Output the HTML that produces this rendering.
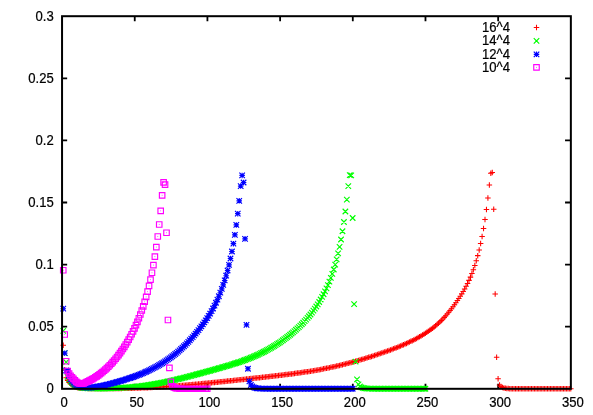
<!DOCTYPE html>
<html lang="en"><head><meta charset="utf-8"><title>plot</title>
<style>html,body{margin:0;padding:0;background:#fff}svg{display:block;will-change:transform}</style>
</head><body>
<svg width="593" height="415" viewBox="0 0 593 415">
<rect width="593" height="415" fill="#fff"/>
<path d="M134.74 388.8v-5M134.74 16.2v5M207.42 388.8v-5M207.42 16.2v5M280.11 388.8v-5M280.11 16.2v5M352.79 388.8v-5M352.79 16.2v5M425.48 388.8v-5M425.48 16.2v5M498.16 388.8v-5M498.16 16.2v5M62.05 326.7h5.1M570.85 326.7h-5.8M62.05 264.6h5.1M570.85 264.6h-5.8M62.05 202.5h5.1M570.85 202.5h-5.8M62.05 140.4h5.1M570.85 140.4h-5.8M62.05 78.3h5.1M570.85 78.3h-5.8" fill="none" stroke="#000" stroke-width="1.8"/>
<path d="M60.5 345.19h5.5M63.25 342.44v5.5M61.95 369.76h5.5M64.7 367.01v5.5M63.41 377.83h5.5M66.16 375.08v5.5M64.86 380.56h5.5M67.61 377.81v5.5M66.32 382.37h5.5M69.07 379.62v5.5M67.77 383.84h5.5M70.52 381.09v5.5M69.23 385h5.5M71.98 382.25v5.5M70.68 385.92h5.5M73.43 383.17v5.5M72.13 386.64h5.5M74.88 383.89v5.5M73.59 387.21h5.5M76.34 384.46v5.5M75.04 387.63h5.5M77.79 384.88v5.5M76.5 387.95h5.5M79.25 385.2v5.5M77.95 388.13h5.5M80.7 385.38v5.5M79.41 388.2h5.5M82.16 385.45v5.5M80.86 388.27h5.5M83.61 385.52v5.5M82.31 388.32h5.5M85.06 385.57v5.5M83.77 388.36h5.5M86.52 385.61v5.5M85.22 388.39h5.5M87.97 385.64v5.5M86.68 388.42h5.5M89.43 385.67v5.5M88.13 388.45h5.5M90.88 385.7v5.5M89.59 388.46h5.5M92.34 385.71v5.5M91.04 388.48h5.5M93.79 385.73v5.5M92.49 388.49h5.5M95.24 385.74v5.5M93.95 388.5h5.5M96.7 385.75v5.5M95.4 388.5h5.5M98.15 385.75v5.5M96.86 388.5h5.5M99.61 385.75v5.5M98.31 388.62h5.5M101.06 385.87v5.5M99.77 388.61h5.5M102.52 385.86v5.5M101.22 388.6h5.5M103.97 385.85v5.5M102.67 388.58h5.5M105.42 385.83v5.5M104.13 388.57h5.5M106.88 385.82v5.5M105.58 388.56h5.5M108.33 385.81v5.5M107.04 388.54h5.5M109.79 385.79v5.5M108.49 388.53h5.5M111.24 385.78v5.5M109.95 388.51h5.5M112.7 385.76v5.5M111.4 388.5h5.5M114.15 385.75v5.5M112.85 388.48h5.5M115.6 385.73v5.5M114.31 388.46h5.5M117.06 385.71v5.5M115.76 388.44h5.5M118.51 385.69v5.5M117.22 388.41h5.5M119.97 385.66v5.5M118.67 388.39h5.5M121.42 385.64v5.5M120.13 388.36h5.5M122.88 385.61v5.5M121.58 388.34h5.5M124.33 385.59v5.5M123.03 388.31h5.5M125.78 385.56v5.5M124.49 388.28h5.5M127.24 385.53v5.5M125.94 388.25h5.5M128.69 385.5v5.5M127.4 388.21h5.5M130.15 385.46v5.5M128.85 388.18h5.5M131.6 385.43v5.5M130.31 388.14h5.5M133.06 385.39v5.5M131.76 388.1h5.5M134.51 385.35v5.5M133.22 388.06h5.5M135.97 385.31v5.5M134.67 388.01h5.5M137.42 385.26v5.5M136.12 387.97h5.5M138.87 385.22v5.5M137.58 387.92h5.5M140.33 385.17v5.5M139.03 387.87h5.5M141.78 385.12v5.5M140.49 387.81h5.5M143.24 385.06v5.5M141.94 387.76h5.5M144.69 385.01v5.5M143.4 387.7h5.5M146.15 384.95v5.5M144.85 387.64h5.5M147.6 384.89v5.5M146.3 387.57h5.5M149.05 384.82v5.5M147.76 387.5h5.5M150.51 384.75v5.5M149.21 387.44h5.5M151.96 384.69v5.5M150.67 387.36h5.5M153.42 384.61v5.5M152.12 387.29h5.5M154.87 384.54v5.5M153.58 387.21h5.5M156.33 384.46v5.5M155.03 387.13h5.5M157.78 384.38v5.5M156.48 387.05h5.5M159.23 384.3v5.5M157.94 386.96h5.5M160.69 384.21v5.5M159.39 386.88h5.5M162.14 384.13v5.5M160.85 386.79h5.5M163.6 384.04v5.5M162.3 386.7h5.5M165.05 383.95v5.5M163.76 386.6h5.5M166.51 383.85v5.5M165.21 386.5h5.5M167.96 383.75v5.5M166.66 386.41h5.5M169.41 383.66v5.5M168.12 386.31h5.5M170.87 383.56v5.5M169.57 386.2h5.5M172.32 383.45v5.5M171.03 386.1h5.5M173.78 383.35v5.5M172.48 385.99h5.5M175.23 383.24v5.5M173.94 385.88h5.5M176.69 383.13v5.5M175.39 385.77h5.5M178.14 383.02v5.5M176.84 385.66h5.5M179.59 382.91v5.5M178.3 385.55h5.5M181.05 382.8v5.5M179.75 385.43h5.5M182.5 382.68v5.5M181.21 385.31h5.5M183.96 382.56v5.5M182.66 385.19h5.5M185.41 382.44v5.5M184.12 385.07h5.5M186.87 382.32v5.5M185.57 384.95h5.5M188.32 382.2v5.5M187.02 384.82h5.5M189.77 382.07v5.5M188.48 384.7h5.5M191.23 381.95v5.5M189.93 384.57h5.5M192.68 381.82v5.5M191.39 384.44h5.5M194.14 381.69v5.5M192.84 384.3h5.5M195.59 381.55v5.5M194.3 384.17h5.5M197.05 381.42v5.5M195.75 384.04h5.5M198.5 381.29v5.5M197.2 383.9h5.5M199.95 381.15v5.5M198.66 383.76h5.5M201.41 381.01v5.5M200.11 383.62h5.5M202.86 380.87v5.5M201.57 383.48h5.5M204.32 380.73v5.5M203.02 383.34h5.5M205.77 380.59v5.5M204.48 383.19h5.5M207.23 380.44v5.5M205.93 383.05h5.5M208.68 380.3v5.5M207.38 382.91h5.5M210.13 380.16v5.5M208.84 382.76h5.5M211.59 380.01v5.5M210.29 382.61h5.5M213.04 379.86v5.5M211.75 382.46h5.5M214.5 379.71v5.5M213.2 382.31h5.5M215.95 379.56v5.5M214.66 382.16h5.5M217.41 379.41v5.5M216.11 382.01h5.5M218.86 379.26v5.5M217.56 381.86h5.5M220.31 379.11v5.5M219.02 381.71h5.5M221.77 378.96v5.5M220.47 381.56h5.5M223.22 378.81v5.5M221.93 381.4h5.5M224.68 378.65v5.5M223.38 381.25h5.5M226.13 378.5v5.5M224.84 381.1h5.5M227.59 378.35v5.5M226.29 380.94h5.5M229.04 378.19v5.5M227.74 380.79h5.5M230.49 378.04v5.5M229.2 380.63h5.5M231.95 377.88v5.5M230.65 380.48h5.5M233.4 377.73v5.5M232.11 380.32h5.5M234.86 377.57v5.5M233.56 380.16h5.5M236.31 377.41v5.5M235.02 380.01h5.5M237.77 377.26v5.5M236.47 379.85h5.5M239.22 377.1v5.5M237.92 379.69h5.5M240.67 376.94v5.5M239.38 379.54h5.5M242.13 376.79v5.5M240.83 379.38h5.5M243.58 376.63v5.5M242.29 379.22h5.5M245.04 376.47v5.5M243.74 379.06h5.5M246.49 376.31v5.5M245.2 378.91h5.5M247.95 376.16v5.5M246.65 378.75h5.5M249.4 376v5.5M248.1 378.59h5.5M250.85 375.84v5.5M249.56 378.43h5.5M252.31 375.68v5.5M251.01 378.27h5.5M253.76 375.52v5.5M252.47 378.11h5.5M255.22 375.36v5.5M253.92 377.95h5.5M256.67 375.2v5.5M255.38 377.79h5.5M258.13 375.04v5.5M256.83 377.63h5.5M259.58 374.88v5.5M258.28 377.47h5.5M261.03 374.72v5.5M259.74 377.31h5.5M262.49 374.56v5.5M261.19 377.15h5.5M263.94 374.4v5.5M262.65 376.99h5.5M265.4 374.24v5.5M264.1 376.83h5.5M266.85 374.08v5.5M265.56 376.66h5.5M268.31 373.91v5.5M267.01 376.5h5.5M269.76 373.75v5.5M268.46 376.33h5.5M271.21 373.58v5.5M269.92 376.17h5.5M272.67 373.42v5.5M271.37 376h5.5M274.12 373.25v5.5M272.83 375.84h5.5M275.58 373.09v5.5M274.28 375.67h5.5M277.03 372.92v5.5M275.74 375.5h5.5M278.49 372.75v5.5M277.19 375.33h5.5M279.94 372.58v5.5M278.64 375.15h5.5M281.39 372.4v5.5M280.1 374.98h5.5M282.85 372.23v5.5M281.55 374.8h5.5M284.3 372.05v5.5M283.01 374.62h5.5M285.76 371.87v5.5M284.46 374.45h5.5M287.21 371.7v5.5M285.92 374.26h5.5M288.67 371.51v5.5M287.37 374.08h5.5M290.12 371.33v5.5M288.83 373.89h5.5M291.58 371.14v5.5M290.28 373.7h5.5M293.03 370.95v5.5M291.73 373.51h5.5M294.48 370.76v5.5M293.19 373.32h5.5M295.94 370.57v5.5M294.64 373.12h5.5M297.39 370.37v5.5M296.1 372.92h5.5M298.85 370.17v5.5M297.55 372.72h5.5M300.3 369.97v5.5M299.01 372.51h5.5M301.76 369.76v5.5M300.46 372.3h5.5M303.21 369.55v5.5M301.91 372.09h5.5M304.66 369.34v5.5M303.37 371.87h5.5M306.12 369.12v5.5M304.82 371.64h5.5M307.57 368.89v5.5M306.28 371.41h5.5M309.03 368.66v5.5M307.73 371.18h5.5M310.48 368.43v5.5M309.19 370.94h5.5M311.94 368.19v5.5M310.64 370.7h5.5M313.39 367.95v5.5M312.09 370.45h5.5M314.84 367.7v5.5M313.55 370.2h5.5M316.3 367.45v5.5M315 369.94h5.5M317.75 367.19v5.5M316.46 369.67h5.5M319.21 366.92v5.5M317.91 369.4h5.5M320.66 366.65v5.5M319.37 369.13h5.5M322.12 366.38v5.5M320.82 368.85h5.5M323.57 366.1v5.5M322.27 368.56h5.5M325.02 365.81v5.5M323.73 368.27h5.5M326.48 365.52v5.5M325.18 367.97h5.5M327.93 365.22v5.5M326.64 367.67h5.5M329.39 364.92v5.5M328.09 367.36h5.5M330.84 364.61v5.5M329.55 367.04h5.5M332.3 364.29v5.5M331 366.72h5.5M333.75 363.97v5.5M332.45 366.4h5.5M335.2 363.65v5.5M333.91 366.06h5.5M336.66 363.31v5.5M335.36 365.73h5.5M338.11 362.98v5.5M336.82 365.38h5.5M339.57 362.63v5.5M338.27 365.04h5.5M341.02 362.29v5.5M339.73 364.68h5.5M342.48 361.93v5.5M341.18 364.32h5.5M343.93 361.57v5.5M342.63 363.95h5.5M345.38 361.2v5.5M344.09 363.58h5.5M346.84 360.83v5.5M345.54 363.2h5.5M348.29 360.45v5.5M347 362.82h5.5M349.75 360.07v5.5M348.45 362.43h5.5M351.2 359.68v5.5M349.91 362.04h5.5M352.66 359.29v5.5M351.36 361.64h5.5M354.11 358.89v5.5M352.81 361.23h5.5M355.56 358.48v5.5M354.27 360.82h5.5M357.02 358.07v5.5M355.72 360.41h5.5M358.47 357.66v5.5M357.18 359.99h5.5M359.93 357.24v5.5M358.63 359.56h5.5M361.38 356.81v5.5M360.09 359.13h5.5M362.84 356.38v5.5M361.54 358.69h5.5M364.29 355.94v5.5M362.99 358.25h5.5M365.74 355.5v5.5M364.45 357.8h5.5M367.2 355.05v5.5M365.9 357.35h5.5M368.65 354.6v5.5M367.36 356.9h5.5M370.11 354.15v5.5M368.81 356.44h5.5M371.56 353.69v5.5M370.27 355.97h5.5M373.02 353.22v5.5M371.72 355.5h5.5M374.47 352.75v5.5M373.17 355.03h5.5M375.92 352.28v5.5M374.63 354.55h5.5M377.38 351.8v5.5M376.08 354.07h5.5M378.83 351.32v5.5M377.54 353.58h5.5M380.29 350.83v5.5M378.99 353.08h5.5M381.74 350.33v5.5M380.45 352.58h5.5M383.2 349.83v5.5M381.9 352.07h5.5M384.65 349.32v5.5M383.35 351.56h5.5M386.1 348.81v5.5M384.81 351.03h5.5M387.56 348.28v5.5M386.26 350.5h5.5M389.01 347.75v5.5M387.72 349.97h5.5M390.47 347.22v5.5M389.17 349.42h5.5M391.92 346.67v5.5M390.63 348.87h5.5M393.38 346.12v5.5M392.08 348.3h5.5M394.83 345.55v5.5M393.53 347.73h5.5M396.28 344.98v5.5M394.99 347.15h5.5M397.74 344.4v5.5M396.44 346.55h5.5M399.19 343.8v5.5M397.9 345.95h5.5M400.65 343.2v5.5M399.35 345.33h5.5M402.1 342.58v5.5M400.81 344.7h5.5M403.56 341.95v5.5M402.26 344.06h5.5M405.01 341.31v5.5M403.71 343.41h5.5M406.46 340.66v5.5M405.17 342.74h5.5M407.92 339.99v5.5M406.62 342.06h5.5M409.37 339.31v5.5M408.08 341.37h5.5M410.83 338.62v5.5M409.53 340.65h5.5M412.28 337.9v5.5M410.99 339.92h5.5M413.74 337.17v5.5M412.44 339.17h5.5M415.19 336.42v5.5M413.89 338.4h5.5M416.64 335.65v5.5M415.35 337.61h5.5M418.1 334.86v5.5M416.8 336.8h5.5M419.55 334.05v5.5M418.26 335.96h5.5M421.01 333.21v5.5M419.71 335.1h5.5M422.46 332.35v5.5M421.17 334.2h5.5M423.92 331.45v5.5M422.62 333.28h5.5M425.37 330.53v5.5M424.07 332.32h5.5M426.82 329.57v5.5M425.53 331.33h5.5M428.28 328.58v5.5M426.98 330.3h5.5M429.73 327.55v5.5M428.44 329.24h5.5M431.19 326.49v5.5M429.89 328.13h5.5M432.64 325.38v5.5M431.35 326.97h5.5M434.1 324.22v5.5M432.8 325.77h5.5M435.55 323.02v5.5M434.26 324.52h5.5M437.01 321.77v5.5M435.71 323.21h5.5M438.46 320.46v5.5M437.16 321.85h5.5M439.91 319.1v5.5M438.62 320.42h5.5M441.37 317.67v5.5M440.07 318.93h5.5M442.82 316.18v5.5M441.53 317.38h5.5M444.28 314.63v5.5M442.98 315.76h5.5M445.73 313.01v5.5M444.44 314.08h5.5M447.19 311.33v5.5M445.89 312.33h5.5M448.64 309.58v5.5M447.34 310.52h5.5M450.09 307.77v5.5M448.8 308.65h5.5M451.55 305.9v5.5M450.25 306.72h5.5M453 303.97v5.5M451.71 304.73h5.5M454.46 301.98v5.5M453.16 302.69h5.5M455.91 299.94v5.5M454.62 300.59h5.5M457.37 297.84v5.5M456.07 298.42h5.5M458.82 295.67v5.5M457.52 296.18h5.5M460.27 293.43v5.5M458.98 293.86h5.5M461.73 291.11v5.5M460.43 291.44h5.5M463.18 288.69v5.5M461.89 288.92h5.5M464.64 286.17v5.5M463.34 286.25h5.5M466.09 283.5v5.5M464.8 283.42h5.5M467.55 280.67v5.5M466.25 280.39h5.5M469 277.64v5.5M467.7 277.12h5.5M470.45 274.37v5.5M469.16 273.57h5.5M471.91 270.82v5.5M470.61 269.7h5.5M473.36 266.95v5.5M472.07 265.46h5.5M474.82 262.71v5.5M473.52 260.8h5.5M476.27 258.05v5.5M474.98 255.64h5.5M477.73 252.89v5.5M476.43 249.92h5.5M479.18 247.17v5.5M477.88 243.55h5.5M480.63 240.8v5.5M479.34 236.44h5.5M482.09 233.69v5.5M480.79 228.47h5.5M483.54 225.72v5.5M482.25 219.51h5.5M485 216.76v5.5M483.7 209.4h5.5M486.45 206.65v5.5M485.16 197.96h5.5M487.91 195.21v5.5M486.61 184.99h5.5M489.36 182.24v5.5M488.06 173.19h5.5M490.81 170.44v5.5M489.52 172.44h5.5M492.27 169.69v5.5M490.97 209.3h5.5M493.72 206.55v5.5M492.43 293.94h5.5M495.18 291.19v5.5M493.88 357.23h5.5M496.63 354.48v5.5M495.34 378.82h5.5M498.09 376.07v5.5M496.79 385.03h5.5M499.54 382.28v5.5M498.24 386.49h5.5M500.99 383.74v5.5M499.7 387.38h5.5M502.45 384.63v5.5M501.15 387.92h5.5M503.9 385.17v5.5M502.61 388.25h5.5M505.36 385.5v5.5M504.06 388.44h5.5M506.81 385.69v5.5M505.52 388.56h5.5M508.27 385.81v5.5M506.97 388.64h5.5M509.72 385.89v5.5M508.42 388.68h5.5M511.17 385.93v5.5M509.88 388.71h5.5M512.63 385.96v5.5M511.33 388.72h5.5M514.08 385.97v5.5M512.79 388.73h5.5M515.54 385.98v5.5M514.24 388.74h5.5M516.99 385.99v5.5M515.7 388.74h5.5M518.45 385.99v5.5M517.15 388.75h5.5M519.9 386v5.5M518.6 388.75h5.5M521.35 386v5.5M520.06 388.75h5.5M522.81 386v5.5M521.51 388.75h5.5M524.26 386v5.5M522.97 388.75h5.5M525.72 386v5.5M524.42 388.75h5.5M527.17 386v5.5M525.88 388.75h5.5M528.63 386v5.5M527.33 388.75h5.5M530.08 386v5.5M528.78 388.75h5.5M531.53 386v5.5M530.24 388.75h5.5M532.99 386v5.5M531.69 388.75h5.5M534.44 386v5.5M533.15 388.75h5.5M535.9 386v5.5M534.6 388.75h5.5M537.35 386v5.5M536.06 388.75h5.5M538.81 386v5.5M537.51 388.75h5.5M540.26 386v5.5M538.96 388.75h5.5M541.71 386v5.5M540.42 388.75h5.5M543.17 386v5.5M541.87 388.75h5.5M544.62 386v5.5M543.33 388.75h5.5M546.08 386v5.5M544.78 388.75h5.5M547.53 386v5.5M546.24 388.75h5.5M548.99 386v5.5M547.69 388.75h5.5M550.44 386v5.5M549.14 388.75h5.5M551.89 386v5.5M550.6 388.75h5.5M553.35 386v5.5M552.05 388.75h5.5M554.8 386v5.5M553.51 388.75h5.5M556.26 386v5.5M554.96 388.75h5.5M557.71 386v5.5M556.42 388.75h5.5M559.17 386v5.5M557.87 388.75h5.5M560.62 386v5.5M559.32 388.75h5.5M562.07 386v5.5M560.78 388.75h5.5M563.53 386v5.5M562.23 388.75h5.5M564.98 386v5.5M563.69 388.75h5.5M566.44 386v5.5M565.14 388.75h5.5M567.89 386v5.5M566.6 388.75h5.5M569.35 386v5.5M568.05 388.75h5.5M570.8 386v5.5M533.75 27.5h5.5M536.5 24.75v5.5" fill="none" stroke="#ff0000" stroke-width="1.05"/>
<path d="M60.5 328.05l5.5 5.5M60.5 333.55l5.5 -5.5M61.95 350.38l5.5 5.5M61.95 355.88l5.5 -5.5M63.41 359.32l5.5 5.5M63.41 364.82l5.5 -5.5M64.86 374.21l5.5 5.5M64.86 379.71l5.5 -5.5M66.32 376.63l5.5 5.5M66.32 382.13l5.5 -5.5M67.77 378.55l5.5 5.5M67.77 384.05l5.5 -5.5M69.23 380.06l5.5 5.5M69.23 385.56l5.5 -5.5M70.68 381.28l5.5 5.5M70.68 386.78l5.5 -5.5M72.13 382.31l5.5 5.5M72.13 387.81l5.5 -5.5M73.59 383.15l5.5 5.5M73.59 388.65l5.5 -5.5M75.04 383.86l5.5 5.5M75.04 389.36l5.5 -5.5M76.5 384.41l5.5 5.5M76.5 389.91l5.5 -5.5M77.95 384.76l5.5 5.5M77.95 390.26l5.5 -5.5M79.41 384.98l5.5 5.5M79.41 390.48l5.5 -5.5M80.86 385.16l5.5 5.5M80.86 390.66l5.5 -5.5M82.31 385.3l5.5 5.5M82.31 390.8l5.5 -5.5M83.77 385.4l5.5 5.5M83.77 390.9l5.5 -5.5M85.22 385.48l5.5 5.5M85.22 390.98l5.5 -5.5M86.68 385.55l5.5 5.5M86.68 391.05l5.5 -5.5M88.13 385.59l5.5 5.5M88.13 391.09l5.5 -5.5M89.59 385.63l5.5 5.5M89.59 391.13l5.5 -5.5M91.04 385.65l5.5 5.5M91.04 391.15l5.5 -5.5M92.49 385.68l5.5 5.5M92.49 391.18l5.5 -5.5M93.95 385.7l5.5 5.5M93.95 391.2l5.5 -5.5M95.4 385.72l5.5 5.5M95.4 391.22l5.5 -5.5M96.86 385.73l5.5 5.5M96.86 391.23l5.5 -5.5M98.31 385.74l5.5 5.5M98.31 391.24l5.5 -5.5M99.77 385.75l5.5 5.5M99.77 391.25l5.5 -5.5M101.22 385.75l5.5 5.5M101.22 391.25l5.5 -5.5M102.67 385.67l5.5 5.5M102.67 391.17l5.5 -5.5M104.13 385.63l5.5 5.5M104.13 391.13l5.5 -5.5M105.58 385.59l5.5 5.5M105.58 391.09l5.5 -5.5M107.04 385.54l5.5 5.5M107.04 391.04l5.5 -5.5M108.49 385.5l5.5 5.5M108.49 391l5.5 -5.5M109.95 385.44l5.5 5.5M109.95 390.94l5.5 -5.5M111.4 385.39l5.5 5.5M111.4 390.89l5.5 -5.5M112.85 385.33l5.5 5.5M112.85 390.83l5.5 -5.5M114.31 385.26l5.5 5.5M114.31 390.76l5.5 -5.5M115.76 385.19l5.5 5.5M115.76 390.69l5.5 -5.5M117.22 385.11l5.5 5.5M117.22 390.61l5.5 -5.5M118.67 385.03l5.5 5.5M118.67 390.53l5.5 -5.5M120.13 384.94l5.5 5.5M120.13 390.44l5.5 -5.5M121.58 384.85l5.5 5.5M121.58 390.35l5.5 -5.5M123.03 384.75l5.5 5.5M123.03 390.25l5.5 -5.5M124.49 384.65l5.5 5.5M124.49 390.15l5.5 -5.5M125.94 384.54l5.5 5.5M125.94 390.04l5.5 -5.5M127.4 384.42l5.5 5.5M127.4 389.92l5.5 -5.5M128.85 384.29l5.5 5.5M128.85 389.79l5.5 -5.5M130.31 384.16l5.5 5.5M130.31 389.66l5.5 -5.5M131.76 384.02l5.5 5.5M131.76 389.52l5.5 -5.5M133.22 383.87l5.5 5.5M133.22 389.37l5.5 -5.5M134.67 383.72l5.5 5.5M134.67 389.22l5.5 -5.5M136.12 383.56l5.5 5.5M136.12 389.06l5.5 -5.5M137.58 383.39l5.5 5.5M137.58 388.89l5.5 -5.5M139.03 383.21l5.5 5.5M139.03 388.71l5.5 -5.5M140.49 383.02l5.5 5.5M140.49 388.52l5.5 -5.5M141.94 382.83l5.5 5.5M141.94 388.33l5.5 -5.5M143.4 382.63l5.5 5.5M143.4 388.13l5.5 -5.5M144.85 382.42l5.5 5.5M144.85 387.92l5.5 -5.5M146.3 382.2l5.5 5.5M146.3 387.7l5.5 -5.5M147.76 381.98l5.5 5.5M147.76 387.48l5.5 -5.5M149.21 381.75l5.5 5.5M149.21 387.25l5.5 -5.5M150.67 381.51l5.5 5.5M150.67 387.01l5.5 -5.5M152.12 381.26l5.5 5.5M152.12 386.76l5.5 -5.5M153.58 381l5.5 5.5M153.58 386.5l5.5 -5.5M155.03 380.74l5.5 5.5M155.03 386.24l5.5 -5.5M156.48 380.47l5.5 5.5M156.48 385.97l5.5 -5.5M157.94 380.19l5.5 5.5M157.94 385.69l5.5 -5.5M159.39 379.9l5.5 5.5M159.39 385.4l5.5 -5.5M160.85 379.61l5.5 5.5M160.85 385.11l5.5 -5.5M162.3 379.31l5.5 5.5M162.3 384.81l5.5 -5.5M163.76 379.01l5.5 5.5M163.76 384.51l5.5 -5.5M165.21 378.7l5.5 5.5M165.21 384.2l5.5 -5.5M166.66 378.38l5.5 5.5M166.66 383.88l5.5 -5.5M168.12 378.06l5.5 5.5M168.12 383.56l5.5 -5.5M169.57 377.73l5.5 5.5M169.57 383.23l5.5 -5.5M171.03 377.39l5.5 5.5M171.03 382.89l5.5 -5.5M172.48 377.05l5.5 5.5M172.48 382.55l5.5 -5.5M173.94 376.71l5.5 5.5M173.94 382.21l5.5 -5.5M175.39 376.36l5.5 5.5M175.39 381.86l5.5 -5.5M176.84 376.01l5.5 5.5M176.84 381.51l5.5 -5.5M178.3 375.65l5.5 5.5M178.3 381.15l5.5 -5.5M179.75 375.29l5.5 5.5M179.75 380.79l5.5 -5.5M181.21 374.93l5.5 5.5M181.21 380.43l5.5 -5.5M182.66 374.56l5.5 5.5M182.66 380.06l5.5 -5.5M184.12 374.19l5.5 5.5M184.12 379.69l5.5 -5.5M185.57 373.81l5.5 5.5M185.57 379.31l5.5 -5.5M187.02 373.44l5.5 5.5M187.02 378.94l5.5 -5.5M188.48 373.06l5.5 5.5M188.48 378.56l5.5 -5.5M189.93 372.68l5.5 5.5M189.93 378.18l5.5 -5.5M191.39 372.29l5.5 5.5M191.39 377.79l5.5 -5.5M192.84 371.91l5.5 5.5M192.84 377.41l5.5 -5.5M194.3 371.52l5.5 5.5M194.3 377.02l5.5 -5.5M195.75 371.13l5.5 5.5M195.75 376.63l5.5 -5.5M197.2 370.74l5.5 5.5M197.2 376.24l5.5 -5.5M198.66 370.35l5.5 5.5M198.66 375.85l5.5 -5.5M200.11 369.96l5.5 5.5M200.11 375.46l5.5 -5.5M201.57 369.56l5.5 5.5M201.57 375.06l5.5 -5.5M203.02 369.16l5.5 5.5M203.02 374.66l5.5 -5.5M204.48 368.77l5.5 5.5M204.48 374.27l5.5 -5.5M205.93 368.37l5.5 5.5M205.93 373.87l5.5 -5.5M207.38 367.97l5.5 5.5M207.38 373.47l5.5 -5.5M208.84 367.56l5.5 5.5M208.84 373.06l5.5 -5.5M210.29 367.16l5.5 5.5M210.29 372.66l5.5 -5.5M211.75 366.75l5.5 5.5M211.75 372.25l5.5 -5.5M213.2 366.35l5.5 5.5M213.2 371.85l5.5 -5.5M214.66 365.94l5.5 5.5M214.66 371.44l5.5 -5.5M216.11 365.52l5.5 5.5M216.11 371.02l5.5 -5.5M217.56 365.11l5.5 5.5M217.56 370.61l5.5 -5.5M219.02 364.69l5.5 5.5M219.02 370.19l5.5 -5.5M220.47 364.27l5.5 5.5M220.47 369.77l5.5 -5.5M221.93 363.84l5.5 5.5M221.93 369.34l5.5 -5.5M223.38 363.41l5.5 5.5M223.38 368.91l5.5 -5.5M224.84 362.98l5.5 5.5M224.84 368.48l5.5 -5.5M226.29 362.54l5.5 5.5M226.29 368.04l5.5 -5.5M227.74 362.1l5.5 5.5M227.74 367.6l5.5 -5.5M229.2 361.65l5.5 5.5M229.2 367.15l5.5 -5.5M230.65 361.19l5.5 5.5M230.65 366.69l5.5 -5.5M232.11 360.73l5.5 5.5M232.11 366.23l5.5 -5.5M233.56 360.26l5.5 5.5M233.56 365.76l5.5 -5.5M235.02 359.78l5.5 5.5M235.02 365.28l5.5 -5.5M236.47 359.3l5.5 5.5M236.47 364.8l5.5 -5.5M237.92 358.8l5.5 5.5M237.92 364.3l5.5 -5.5M239.38 358.29l5.5 5.5M239.38 363.79l5.5 -5.5M240.83 357.78l5.5 5.5M240.83 363.28l5.5 -5.5M242.29 357.25l5.5 5.5M242.29 362.75l5.5 -5.5M243.74 356.7l5.5 5.5M243.74 362.2l5.5 -5.5M245.2 356.14l5.5 5.5M245.2 361.64l5.5 -5.5M246.65 355.57l5.5 5.5M246.65 361.07l5.5 -5.5M248.1 354.99l5.5 5.5M248.1 360.49l5.5 -5.5M249.56 354.39l5.5 5.5M249.56 359.89l5.5 -5.5M251.01 353.77l5.5 5.5M251.01 359.27l5.5 -5.5M252.47 353.14l5.5 5.5M252.47 358.64l5.5 -5.5M253.92 352.49l5.5 5.5M253.92 357.99l5.5 -5.5M255.38 351.83l5.5 5.5M255.38 357.33l5.5 -5.5M256.83 351.14l5.5 5.5M256.83 356.64l5.5 -5.5M258.28 350.44l5.5 5.5M258.28 355.94l5.5 -5.5M259.74 349.73l5.5 5.5M259.74 355.23l5.5 -5.5M261.19 348.99l5.5 5.5M261.19 354.49l5.5 -5.5M262.65 348.24l5.5 5.5M262.65 353.74l5.5 -5.5M264.1 347.46l5.5 5.5M264.1 352.96l5.5 -5.5M265.56 346.67l5.5 5.5M265.56 352.17l5.5 -5.5M267.01 345.86l5.5 5.5M267.01 351.36l5.5 -5.5M268.46 345.02l5.5 5.5M268.46 350.52l5.5 -5.5M269.92 344.16l5.5 5.5M269.92 349.66l5.5 -5.5M271.37 343.28l5.5 5.5M271.37 348.78l5.5 -5.5M272.83 342.38l5.5 5.5M272.83 347.88l5.5 -5.5M274.28 341.46l5.5 5.5M274.28 346.96l5.5 -5.5M275.74 340.51l5.5 5.5M275.74 346.01l5.5 -5.5M277.19 339.54l5.5 5.5M277.19 345.04l5.5 -5.5M278.64 338.54l5.5 5.5M278.64 344.04l5.5 -5.5M280.1 337.51l5.5 5.5M280.1 343.01l5.5 -5.5M281.55 336.46l5.5 5.5M281.55 341.96l5.5 -5.5M283.01 335.39l5.5 5.5M283.01 340.89l5.5 -5.5M284.46 334.28l5.5 5.5M284.46 339.78l5.5 -5.5M285.92 333.14l5.5 5.5M285.92 338.64l5.5 -5.5M287.37 331.98l5.5 5.5M287.37 337.48l5.5 -5.5M288.83 330.78l5.5 5.5M288.83 336.28l5.5 -5.5M290.28 329.56l5.5 5.5M290.28 335.06l5.5 -5.5M291.73 328.3l5.5 5.5M291.73 333.8l5.5 -5.5M293.19 327.01l5.5 5.5M293.19 332.51l5.5 -5.5M294.64 325.69l5.5 5.5M294.64 331.19l5.5 -5.5M296.1 324.32l5.5 5.5M296.1 329.82l5.5 -5.5M297.55 322.93l5.5 5.5M297.55 328.43l5.5 -5.5M299.01 321.48l5.5 5.5M299.01 326.98l5.5 -5.5M300.46 320l5.5 5.5M300.46 325.5l5.5 -5.5M301.91 318.46l5.5 5.5M301.91 323.96l5.5 -5.5M303.37 316.86l5.5 5.5M303.37 322.36l5.5 -5.5M304.82 315.21l5.5 5.5M304.82 320.71l5.5 -5.5M306.28 313.5l5.5 5.5M306.28 319l5.5 -5.5M307.73 311.72l5.5 5.5M307.73 317.22l5.5 -5.5M309.19 309.86l5.5 5.5M309.19 315.36l5.5 -5.5M310.64 307.92l5.5 5.5M310.64 313.42l5.5 -5.5M312.09 305.89l5.5 5.5M312.09 311.39l5.5 -5.5M313.55 303.78l5.5 5.5M313.55 309.28l5.5 -5.5M315 301.56l5.5 5.5M315 307.06l5.5 -5.5M316.46 299.23l5.5 5.5M316.46 304.73l5.5 -5.5M317.91 296.78l5.5 5.5M317.91 302.28l5.5 -5.5M319.37 294.21l5.5 5.5M319.37 299.71l5.5 -5.5M320.82 291.5l5.5 5.5M320.82 297l5.5 -5.5M322.27 288.64l5.5 5.5M322.27 294.14l5.5 -5.5M323.73 285.61l5.5 5.5M323.73 291.11l5.5 -5.5M325.18 282.38l5.5 5.5M325.18 287.88l5.5 -5.5M326.64 278.92l5.5 5.5M326.64 284.42l5.5 -5.5M328.09 275.19l5.5 5.5M328.09 280.69l5.5 -5.5M329.55 271.15l5.5 5.5M329.55 276.65l5.5 -5.5M331 266.74l5.5 5.5M331 272.24l5.5 -5.5M332.45 261.9l5.5 5.5M332.45 267.4l5.5 -5.5M333.91 256.57l5.5 5.5M333.91 262.07l5.5 -5.5M335.36 250.66l5.5 5.5M335.36 256.16l5.5 -5.5M336.82 244.09l5.5 5.5M336.82 249.59l5.5 -5.5M338.27 236.74l5.5 5.5M338.27 242.24l5.5 -5.5M339.73 228.51l5.5 5.5M339.73 234.01l5.5 -5.5M341.18 219.24l5.5 5.5M341.18 224.74l5.5 -5.5M342.63 208.76l5.5 5.5M342.63 214.26l5.5 -5.5M344.09 196.88l5.5 5.5M344.09 202.38l5.5 -5.5M345.54 183.35l5.5 5.5M345.54 188.85l5.5 -5.5M347 172.3l5.5 5.5M347 177.8l5.5 -5.5M348.45 172.67l5.5 5.5M348.45 178.17l5.5 -5.5M349.91 215.24l5.5 5.5M349.91 220.74l5.5 -5.5M351.36 301.36l5.5 5.5M351.36 306.86l5.5 -5.5M352.81 358.95l5.5 5.5M352.81 364.45l5.5 -5.5M354.27 376.57l5.5 5.5M354.27 382.07l5.5 -5.5M355.72 381.66l5.5 5.5M355.72 387.16l5.5 -5.5M357.18 383.77l5.5 5.5M357.18 389.27l5.5 -5.5M358.63 384.65l5.5 5.5M358.63 390.15l5.5 -5.5M360.09 385.18l5.5 5.5M360.09 390.68l5.5 -5.5M361.54 385.5l5.5 5.5M361.54 391l5.5 -5.5M362.99 385.7l5.5 5.5M362.99 391.2l5.5 -5.5M364.45 385.82l5.5 5.5M364.45 391.32l5.5 -5.5M365.9 385.89l5.5 5.5M365.9 391.39l5.5 -5.5M367.36 385.93l5.5 5.5M367.36 391.43l5.5 -5.5M368.81 385.96l5.5 5.5M368.81 391.46l5.5 -5.5M370.27 385.98l5.5 5.5M370.27 391.48l5.5 -5.5M371.72 385.98l5.5 5.5M371.72 391.48l5.5 -5.5M373.17 385.99l5.5 5.5M373.17 391.49l5.5 -5.5M374.63 385.99l5.5 5.5M374.63 391.49l5.5 -5.5M376.08 386l5.5 5.5M376.08 391.5l5.5 -5.5M377.54 386l5.5 5.5M377.54 391.5l5.5 -5.5M378.99 386l5.5 5.5M378.99 391.5l5.5 -5.5M380.45 386l5.5 5.5M380.45 391.5l5.5 -5.5M381.9 386l5.5 5.5M381.9 391.5l5.5 -5.5M383.35 386l5.5 5.5M383.35 391.5l5.5 -5.5M384.81 386l5.5 5.5M384.81 391.5l5.5 -5.5M386.26 386l5.5 5.5M386.26 391.5l5.5 -5.5M387.72 386l5.5 5.5M387.72 391.5l5.5 -5.5M389.17 386l5.5 5.5M389.17 391.5l5.5 -5.5M390.63 386l5.5 5.5M390.63 391.5l5.5 -5.5M392.08 386l5.5 5.5M392.08 391.5l5.5 -5.5M393.53 386l5.5 5.5M393.53 391.5l5.5 -5.5M394.99 386l5.5 5.5M394.99 391.5l5.5 -5.5M396.44 386l5.5 5.5M396.44 391.5l5.5 -5.5M397.9 386l5.5 5.5M397.9 391.5l5.5 -5.5M399.35 386l5.5 5.5M399.35 391.5l5.5 -5.5M400.81 386l5.5 5.5M400.81 391.5l5.5 -5.5M402.26 386l5.5 5.5M402.26 391.5l5.5 -5.5M403.71 386l5.5 5.5M403.71 391.5l5.5 -5.5M405.17 386l5.5 5.5M405.17 391.5l5.5 -5.5M406.62 386l5.5 5.5M406.62 391.5l5.5 -5.5M408.08 386l5.5 5.5M408.08 391.5l5.5 -5.5M409.53 386l5.5 5.5M409.53 391.5l5.5 -5.5M410.99 386l5.5 5.5M410.99 391.5l5.5 -5.5M412.44 386l5.5 5.5M412.44 391.5l5.5 -5.5M413.89 386l5.5 5.5M413.89 391.5l5.5 -5.5M415.35 386l5.5 5.5M415.35 391.5l5.5 -5.5M416.8 386l5.5 5.5M416.8 391.5l5.5 -5.5M418.26 386l5.5 5.5M418.26 391.5l5.5 -5.5M419.71 386l5.5 5.5M419.71 391.5l5.5 -5.5M421.17 386l5.5 5.5M421.17 391.5l5.5 -5.5M422.62 386l5.5 5.5M422.62 391.5l5.5 -5.5M533.75 38.05l5.5 5.5M533.75 43.55l5.5 -5.5" fill="none" stroke="#00ff00" stroke-width="1.15"/>
<path d="M60.5 308.71h5.5M63.25 305.96v5.5M60.5 305.96l5.5 5.5M60.5 311.46l5.5 -5.5M61.95 353.13h5.5M64.7 350.38v5.5M61.95 350.38l5.5 5.5M61.95 355.88l5.5 -5.5M63.41 370.51h5.5M66.16 367.76v5.5M63.41 367.76l5.5 5.5M63.41 373.26l5.5 -5.5M64.86 371h5.5M67.61 368.25v5.5M64.86 368.25l5.5 5.5M64.86 373.75l5.5 -5.5M66.32 375.75h5.5M69.07 373v5.5M66.32 373l5.5 5.5M66.32 378.5l5.5 -5.5M67.77 379.04h5.5M70.52 376.29v5.5M67.77 376.29l5.5 5.5M67.77 381.79l5.5 -5.5M69.23 381.3h5.5M71.98 378.55v5.5M69.23 378.55l5.5 5.5M69.23 384.05l5.5 -5.5M70.68 382.91h5.5M73.43 380.16v5.5M70.68 380.16l5.5 5.5M70.68 385.66l5.5 -5.5M72.13 384.09h5.5M74.88 381.34v5.5M72.13 381.34l5.5 5.5M72.13 386.84l5.5 -5.5M73.59 384.98h5.5M76.34 382.23v5.5M73.59 382.23l5.5 5.5M73.59 387.73l5.5 -5.5M75.04 385.65h5.5M77.79 382.9v5.5M75.04 382.9l5.5 5.5M75.04 388.4l5.5 -5.5M76.5 386.19h5.5M79.25 383.44v5.5M76.5 383.44l5.5 5.5M76.5 388.94l5.5 -5.5M77.95 386.65h5.5M80.7 383.9v5.5M77.95 383.9l5.5 5.5M77.95 389.4l5.5 -5.5M79.41 386.99h5.5M82.16 384.24v5.5M79.41 384.24l5.5 5.5M79.41 389.74l5.5 -5.5M80.86 387.24h5.5M83.61 384.49v5.5M80.86 384.49l5.5 5.5M80.86 389.99l5.5 -5.5M82.31 387.38h5.5M85.06 384.63v5.5M82.31 384.63l5.5 5.5M82.31 390.13l5.5 -5.5M83.77 387.48h5.5M86.52 384.73v5.5M83.77 384.73l5.5 5.5M83.77 390.23l5.5 -5.5M85.22 387.56h5.5M87.97 384.81v5.5M85.22 384.81l5.5 5.5M85.22 390.31l5.5 -5.5M86.68 387.61h5.5M89.43 384.86v5.5M86.68 384.86l5.5 5.5M86.68 390.36l5.5 -5.5M88.13 387.63h5.5M90.88 384.88v5.5M88.13 384.88l5.5 5.5M88.13 390.38l5.5 -5.5M89.59 387.3h5.5M92.34 384.55v5.5M89.59 384.55l5.5 5.5M89.59 390.05l5.5 -5.5M91.04 387.11h5.5M93.79 384.36v5.5M91.04 384.36l5.5 5.5M91.04 389.86l5.5 -5.5M92.49 386.9h5.5M95.24 384.15v5.5M92.49 384.15l5.5 5.5M92.49 389.65l5.5 -5.5M93.95 386.68h5.5M96.7 383.93v5.5M93.95 383.93l5.5 5.5M93.95 389.43l5.5 -5.5M95.4 386.44h5.5M98.15 383.69v5.5M95.4 383.69l5.5 5.5M95.4 389.19l5.5 -5.5M96.86 386.18h5.5M99.61 383.43v5.5M96.86 383.43l5.5 5.5M96.86 388.93l5.5 -5.5M98.31 385.91h5.5M101.06 383.16v5.5M98.31 383.16l5.5 5.5M98.31 388.66l5.5 -5.5M99.77 385.62h5.5M102.52 382.87v5.5M99.77 382.87l5.5 5.5M99.77 388.37l5.5 -5.5M101.22 385.32h5.5M103.97 382.57v5.5M101.22 382.57l5.5 5.5M101.22 388.07l5.5 -5.5M102.67 385h5.5M105.42 382.25v5.5M102.67 382.25l5.5 5.5M102.67 387.75l5.5 -5.5M104.13 384.67h5.5M106.88 381.92v5.5M104.13 381.92l5.5 5.5M104.13 387.42l5.5 -5.5M105.58 384.32h5.5M108.33 381.57v5.5M105.58 381.57l5.5 5.5M105.58 387.07l5.5 -5.5M107.04 383.96h5.5M109.79 381.21v5.5M107.04 381.21l5.5 5.5M107.04 386.71l5.5 -5.5M108.49 383.6h5.5M111.24 380.85v5.5M108.49 380.85l5.5 5.5M108.49 386.35l5.5 -5.5M109.95 383.21h5.5M112.7 380.46v5.5M109.95 380.46l5.5 5.5M109.95 385.96l5.5 -5.5M111.4 382.82h5.5M114.15 380.07v5.5M111.4 380.07l5.5 5.5M111.4 385.57l5.5 -5.5M112.85 382.42h5.5M115.6 379.67v5.5M112.85 379.67l5.5 5.5M112.85 385.17l5.5 -5.5M114.31 382.01h5.5M117.06 379.26v5.5M114.31 379.26l5.5 5.5M114.31 384.76l5.5 -5.5M115.76 381.6h5.5M118.51 378.85v5.5M115.76 378.85l5.5 5.5M115.76 384.35l5.5 -5.5M117.22 381.17h5.5M119.97 378.42v5.5M117.22 378.42l5.5 5.5M117.22 383.92l5.5 -5.5M118.67 380.74h5.5M121.42 377.99v5.5M118.67 377.99l5.5 5.5M118.67 383.49l5.5 -5.5M120.13 380.3h5.5M122.88 377.55v5.5M120.13 377.55l5.5 5.5M120.13 383.05l5.5 -5.5M121.58 379.85h5.5M124.33 377.1v5.5M121.58 377.1l5.5 5.5M121.58 382.6l5.5 -5.5M123.03 379.39h5.5M125.78 376.64v5.5M123.03 376.64l5.5 5.5M123.03 382.14l5.5 -5.5M124.49 378.93h5.5M127.24 376.18v5.5M124.49 376.18l5.5 5.5M124.49 381.68l5.5 -5.5M125.94 378.46h5.5M128.69 375.71v5.5M125.94 375.71l5.5 5.5M125.94 381.21l5.5 -5.5M127.4 377.98h5.5M130.15 375.23v5.5M127.4 375.23l5.5 5.5M127.4 380.73l5.5 -5.5M128.85 377.49h5.5M131.6 374.74v5.5M128.85 374.74l5.5 5.5M128.85 380.24l5.5 -5.5M130.31 376.98h5.5M133.06 374.23v5.5M130.31 374.23l5.5 5.5M130.31 379.73l5.5 -5.5M131.76 376.47h5.5M134.51 373.72v5.5M131.76 373.72l5.5 5.5M131.76 379.22l5.5 -5.5M133.22 375.94h5.5M135.97 373.19v5.5M133.22 373.19l5.5 5.5M133.22 378.69l5.5 -5.5M134.67 375.39h5.5M137.42 372.64v5.5M134.67 372.64l5.5 5.5M134.67 378.14l5.5 -5.5M136.12 374.83h5.5M138.87 372.08v5.5M136.12 372.08l5.5 5.5M136.12 377.58l5.5 -5.5M137.58 374.25h5.5M140.33 371.5v5.5M137.58 371.5l5.5 5.5M137.58 377l5.5 -5.5M139.03 373.65h5.5M141.78 370.9v5.5M139.03 370.9l5.5 5.5M139.03 376.4l5.5 -5.5M140.49 373.04h5.5M143.24 370.29v5.5M140.49 370.29l5.5 5.5M140.49 375.79l5.5 -5.5M141.94 372.41h5.5M144.69 369.66v5.5M141.94 369.66l5.5 5.5M141.94 375.16l5.5 -5.5M143.4 371.76h5.5M146.15 369.01v5.5M143.4 369.01l5.5 5.5M143.4 374.51l5.5 -5.5M144.85 371.09h5.5M147.6 368.34v5.5M144.85 368.34l5.5 5.5M144.85 373.84l5.5 -5.5M146.3 370.4h5.5M149.05 367.65v5.5M146.3 367.65l5.5 5.5M146.3 373.15l5.5 -5.5M147.76 369.69h5.5M150.51 366.94v5.5M147.76 366.94l5.5 5.5M147.76 372.44l5.5 -5.5M149.21 368.96h5.5M151.96 366.21v5.5M149.21 366.21l5.5 5.5M149.21 371.71l5.5 -5.5M150.67 368.21h5.5M153.42 365.46v5.5M150.67 365.46l5.5 5.5M150.67 370.96l5.5 -5.5M152.12 367.44h5.5M154.87 364.69v5.5M152.12 364.69l5.5 5.5M152.12 370.19l5.5 -5.5M153.58 366.65h5.5M156.33 363.9v5.5M153.58 363.9l5.5 5.5M153.58 369.4l5.5 -5.5M155.03 365.83h5.5M157.78 363.08v5.5M155.03 363.08l5.5 5.5M155.03 368.58l5.5 -5.5M156.48 364.99h5.5M159.23 362.24v5.5M156.48 362.24l5.5 5.5M156.48 367.74l5.5 -5.5M157.94 364.13h5.5M160.69 361.38v5.5M157.94 361.38l5.5 5.5M157.94 366.88l5.5 -5.5M159.39 363.24h5.5M162.14 360.49v5.5M159.39 360.49l5.5 5.5M159.39 365.99l5.5 -5.5M160.85 362.33h5.5M163.6 359.58v5.5M160.85 359.58l5.5 5.5M160.85 365.08l5.5 -5.5M162.3 361.39h5.5M165.05 358.64v5.5M162.3 358.64l5.5 5.5M162.3 364.14l5.5 -5.5M163.76 360.42h5.5M166.51 357.67v5.5M163.76 357.67l5.5 5.5M163.76 363.17l5.5 -5.5M165.21 359.42h5.5M167.96 356.67v5.5M165.21 356.67l5.5 5.5M165.21 362.17l5.5 -5.5M166.66 358.4h5.5M169.41 355.65v5.5M166.66 355.65l5.5 5.5M166.66 361.15l5.5 -5.5M168.12 357.34h5.5M170.87 354.59v5.5M168.12 354.59l5.5 5.5M168.12 360.09l5.5 -5.5M169.57 356.25h5.5M172.32 353.5v5.5M169.57 353.5l5.5 5.5M169.57 359l5.5 -5.5M171.03 355.13h5.5M173.78 352.38v5.5M171.03 352.38l5.5 5.5M171.03 357.88l5.5 -5.5M172.48 353.98h5.5M175.23 351.23v5.5M172.48 351.23l5.5 5.5M172.48 356.73l5.5 -5.5M173.94 352.79h5.5M176.69 350.04v5.5M173.94 350.04l5.5 5.5M173.94 355.54l5.5 -5.5M175.39 351.56h5.5M178.14 348.81v5.5M175.39 348.81l5.5 5.5M175.39 354.31l5.5 -5.5M176.84 350.3h5.5M179.59 347.55v5.5M176.84 347.55l5.5 5.5M176.84 353.05l5.5 -5.5M178.3 348.99h5.5M181.05 346.24v5.5M178.3 346.24l5.5 5.5M178.3 351.74l5.5 -5.5M179.75 347.64h5.5M182.5 344.89v5.5M179.75 344.89l5.5 5.5M179.75 350.39l5.5 -5.5M181.21 346.25h5.5M183.96 343.5v5.5M181.21 343.5l5.5 5.5M181.21 349l5.5 -5.5M182.66 344.82h5.5M185.41 342.07v5.5M182.66 342.07l5.5 5.5M182.66 347.57l5.5 -5.5M184.12 343.35h5.5M186.87 340.6v5.5M184.12 340.6l5.5 5.5M184.12 346.1l5.5 -5.5M185.57 341.84h5.5M188.32 339.09v5.5M185.57 339.09l5.5 5.5M185.57 344.59l5.5 -5.5M187.02 340.28h5.5M189.77 337.53v5.5M187.02 337.53l5.5 5.5M187.02 343.03l5.5 -5.5M188.48 338.68h5.5M191.23 335.93v5.5M188.48 335.93l5.5 5.5M188.48 341.43l5.5 -5.5M189.93 337.04h5.5M192.68 334.29v5.5M189.93 334.29l5.5 5.5M189.93 339.79l5.5 -5.5M191.39 335.36h5.5M194.14 332.61v5.5M191.39 332.61l5.5 5.5M191.39 338.11l5.5 -5.5M192.84 333.63h5.5M195.59 330.88v5.5M192.84 330.88l5.5 5.5M192.84 336.38l5.5 -5.5M194.3 331.87h5.5M197.05 329.12v5.5M194.3 329.12l5.5 5.5M194.3 334.62l5.5 -5.5M195.75 330.06h5.5M198.5 327.31v5.5M195.75 327.31l5.5 5.5M195.75 332.81l5.5 -5.5M197.2 328.21h5.5M199.95 325.46v5.5M197.2 325.46l5.5 5.5M197.2 330.96l5.5 -5.5M198.66 326.32h5.5M201.41 323.57v5.5M198.66 323.57l5.5 5.5M198.66 329.07l5.5 -5.5M200.11 324.38h5.5M202.86 321.63v5.5M200.11 321.63l5.5 5.5M200.11 327.13l5.5 -5.5M201.57 322.38h5.5M204.32 319.63v5.5M201.57 319.63l5.5 5.5M201.57 325.13l5.5 -5.5M203.02 320.32h5.5M205.77 317.57v5.5M203.02 317.57l5.5 5.5M203.02 323.07l5.5 -5.5M204.48 318.18h5.5M207.23 315.43v5.5M204.48 315.43l5.5 5.5M204.48 320.93l5.5 -5.5M205.93 315.93h5.5M208.68 313.18v5.5M205.93 313.18l5.5 5.5M205.93 318.68l5.5 -5.5M207.38 313.58h5.5M210.13 310.83v5.5M207.38 310.83l5.5 5.5M207.38 316.33l5.5 -5.5M208.84 311.1h5.5M211.59 308.35v5.5M208.84 308.35l5.5 5.5M208.84 313.85l5.5 -5.5M210.29 308.47h5.5M213.04 305.72v5.5M210.29 305.72l5.5 5.5M210.29 311.22l5.5 -5.5M211.75 305.69h5.5M214.5 302.94v5.5M211.75 302.94l5.5 5.5M211.75 308.44l5.5 -5.5M213.2 302.74h5.5M215.95 299.99v5.5M213.2 299.99l5.5 5.5M213.2 305.49l5.5 -5.5M214.66 299.6h5.5M217.41 296.85v5.5M214.66 296.85l5.5 5.5M214.66 302.35l5.5 -5.5M216.11 296.26h5.5M218.86 293.51v5.5M216.11 293.51l5.5 5.5M216.11 299.01l5.5 -5.5M217.56 292.7h5.5M220.31 289.95v5.5M217.56 289.95l5.5 5.5M217.56 295.45l5.5 -5.5M219.02 288.9h5.5M221.77 286.15v5.5M219.02 286.15l5.5 5.5M219.02 291.65l5.5 -5.5M220.47 284.84h5.5M223.22 282.09v5.5M220.47 282.09l5.5 5.5M220.47 287.59l5.5 -5.5M221.93 280.46h5.5M224.68 277.71v5.5M221.93 277.71l5.5 5.5M221.93 283.21l5.5 -5.5M223.38 275.71h5.5M226.13 272.96v5.5M223.38 272.96l5.5 5.5M223.38 278.46l5.5 -5.5M224.84 270.52h5.5M227.59 267.77v5.5M224.84 267.77l5.5 5.5M224.84 273.27l5.5 -5.5M226.29 264.82h5.5M229.04 262.07v5.5M226.29 262.07l5.5 5.5M226.29 267.57l5.5 -5.5M227.74 258.51h5.5M230.49 255.76v5.5M227.74 255.76l5.5 5.5M227.74 261.26l5.5 -5.5M229.2 251.5h5.5M231.95 248.75v5.5M229.2 248.75l5.5 5.5M229.2 254.25l5.5 -5.5M230.65 243.67h5.5M233.4 240.92v5.5M230.65 240.92l5.5 5.5M230.65 246.42l5.5 -5.5M232.11 234.86h5.5M234.86 232.11v5.5M232.11 232.11l5.5 5.5M232.11 237.61l5.5 -5.5M233.56 224.92h5.5M236.31 222.17v5.5M233.56 222.17l5.5 5.5M233.56 227.67l5.5 -5.5M235.02 213.65h5.5M237.77 210.9v5.5M235.02 210.9l5.5 5.5M235.02 216.4l5.5 -5.5M236.47 200.8h5.5M239.22 198.05v5.5M236.47 198.05l5.5 5.5M236.47 203.55l5.5 -5.5M237.92 186.1h5.5M240.67 183.35v5.5M237.92 183.35l5.5 5.5M237.92 188.85l5.5 -5.5M239.38 175.42h5.5M242.13 172.67v5.5M239.38 172.67l5.5 5.5M239.38 178.17l5.5 -5.5M240.83 182.5h5.5M243.58 179.75v5.5M240.83 179.75l5.5 5.5M240.83 185.25l5.5 -5.5M242.29 238.84h5.5M245.04 236.09v5.5M242.29 236.09l5.5 5.5M242.29 241.59l5.5 -5.5M243.74 324.84h5.5M246.49 322.09v5.5M243.74 322.09l5.5 5.5M243.74 327.59l5.5 -5.5M245.2 368.77h5.5M247.95 366.02v5.5M245.2 366.02l5.5 5.5M245.2 371.52l5.5 -5.5M246.65 381.3h5.5M249.4 378.55v5.5M246.65 378.55l5.5 5.5M246.65 384.05l5.5 -5.5M248.1 385.03h5.5M250.85 382.28v5.5M248.1 382.28l5.5 5.5M248.1 387.78l5.5 -5.5M249.56 386.49h5.5M252.31 383.74v5.5M249.56 383.74l5.5 5.5M249.56 389.24l5.5 -5.5M251.01 387.38h5.5M253.76 384.63v5.5M251.01 384.63l5.5 5.5M251.01 390.13l5.5 -5.5M252.47 387.92h5.5M255.22 385.17v5.5M252.47 385.17l5.5 5.5M252.47 390.67l5.5 -5.5M253.92 388.25h5.5M256.67 385.5v5.5M253.92 385.5l5.5 5.5M253.92 391l5.5 -5.5M255.38 388.44h5.5M258.13 385.69v5.5M255.38 385.69l5.5 5.5M255.38 391.19l5.5 -5.5M256.83 388.56h5.5M259.58 385.81v5.5M256.83 385.81l5.5 5.5M256.83 391.31l5.5 -5.5M258.28 388.64h5.5M261.03 385.89v5.5M258.28 385.89l5.5 5.5M258.28 391.39l5.5 -5.5M259.74 388.68h5.5M262.49 385.93v5.5M259.74 385.93l5.5 5.5M259.74 391.43l5.5 -5.5M261.19 388.71h5.5M263.94 385.96v5.5M261.19 385.96l5.5 5.5M261.19 391.46l5.5 -5.5M262.65 388.72h5.5M265.4 385.97v5.5M262.65 385.97l5.5 5.5M262.65 391.47l5.5 -5.5M264.1 388.73h5.5M266.85 385.98v5.5M264.1 385.98l5.5 5.5M264.1 391.48l5.5 -5.5M265.56 388.74h5.5M268.31 385.99v5.5M265.56 385.99l5.5 5.5M265.56 391.49l5.5 -5.5M267.01 388.74h5.5M269.76 385.99v5.5M267.01 385.99l5.5 5.5M267.01 391.49l5.5 -5.5M268.46 388.75h5.5M271.21 386v5.5M268.46 386l5.5 5.5M268.46 391.5l5.5 -5.5M269.92 388.75h5.5M272.67 386v5.5M269.92 386l5.5 5.5M269.92 391.5l5.5 -5.5M271.37 388.75h5.5M274.12 386v5.5M271.37 386l5.5 5.5M271.37 391.5l5.5 -5.5M272.83 388.75h5.5M275.58 386v5.5M272.83 386l5.5 5.5M272.83 391.5l5.5 -5.5M274.28 388.75h5.5M277.03 386v5.5M274.28 386l5.5 5.5M274.28 391.5l5.5 -5.5M275.74 388.75h5.5M278.49 386v5.5M275.74 386l5.5 5.5M275.74 391.5l5.5 -5.5M277.19 388.75h5.5M279.94 386v5.5M277.19 386l5.5 5.5M277.19 391.5l5.5 -5.5M278.64 388.75h5.5M281.39 386v5.5M278.64 386l5.5 5.5M278.64 391.5l5.5 -5.5M280.1 388.75h5.5M282.85 386v5.5M280.1 386l5.5 5.5M280.1 391.5l5.5 -5.5M281.55 388.75h5.5M284.3 386v5.5M281.55 386l5.5 5.5M281.55 391.5l5.5 -5.5M283.01 388.75h5.5M285.76 386v5.5M283.01 386l5.5 5.5M283.01 391.5l5.5 -5.5M284.46 388.75h5.5M287.21 386v5.5M284.46 386l5.5 5.5M284.46 391.5l5.5 -5.5M285.92 388.75h5.5M288.67 386v5.5M285.92 386l5.5 5.5M285.92 391.5l5.5 -5.5M287.37 388.75h5.5M290.12 386v5.5M287.37 386l5.5 5.5M287.37 391.5l5.5 -5.5M288.83 388.75h5.5M291.58 386v5.5M288.83 386l5.5 5.5M288.83 391.5l5.5 -5.5M290.28 388.75h5.5M293.03 386v5.5M290.28 386l5.5 5.5M290.28 391.5l5.5 -5.5M291.73 388.75h5.5M294.48 386v5.5M291.73 386l5.5 5.5M291.73 391.5l5.5 -5.5M293.19 388.75h5.5M295.94 386v5.5M293.19 386l5.5 5.5M293.19 391.5l5.5 -5.5M294.64 388.75h5.5M297.39 386v5.5M294.64 386l5.5 5.5M294.64 391.5l5.5 -5.5M296.1 388.75h5.5M298.85 386v5.5M296.1 386l5.5 5.5M296.1 391.5l5.5 -5.5M297.55 388.75h5.5M300.3 386v5.5M297.55 386l5.5 5.5M297.55 391.5l5.5 -5.5M299.01 388.75h5.5M301.76 386v5.5M299.01 386l5.5 5.5M299.01 391.5l5.5 -5.5M300.46 388.75h5.5M303.21 386v5.5M300.46 386l5.5 5.5M300.46 391.5l5.5 -5.5M301.91 388.75h5.5M304.66 386v5.5M301.91 386l5.5 5.5M301.91 391.5l5.5 -5.5M303.37 388.75h5.5M306.12 386v5.5M303.37 386l5.5 5.5M303.37 391.5l5.5 -5.5M304.82 388.75h5.5M307.57 386v5.5M304.82 386l5.5 5.5M304.82 391.5l5.5 -5.5M306.28 388.75h5.5M309.03 386v5.5M306.28 386l5.5 5.5M306.28 391.5l5.5 -5.5M307.73 388.75h5.5M310.48 386v5.5M307.73 386l5.5 5.5M307.73 391.5l5.5 -5.5M309.19 388.75h5.5M311.94 386v5.5M309.19 386l5.5 5.5M309.19 391.5l5.5 -5.5M310.64 388.75h5.5M313.39 386v5.5M310.64 386l5.5 5.5M310.64 391.5l5.5 -5.5M312.09 388.75h5.5M314.84 386v5.5M312.09 386l5.5 5.5M312.09 391.5l5.5 -5.5M313.55 388.75h5.5M316.3 386v5.5M313.55 386l5.5 5.5M313.55 391.5l5.5 -5.5M315 388.75h5.5M317.75 386v5.5M315 386l5.5 5.5M315 391.5l5.5 -5.5M316.46 388.75h5.5M319.21 386v5.5M316.46 386l5.5 5.5M316.46 391.5l5.5 -5.5M317.91 388.75h5.5M320.66 386v5.5M317.91 386l5.5 5.5M317.91 391.5l5.5 -5.5M319.37 388.75h5.5M322.12 386v5.5M319.37 386l5.5 5.5M319.37 391.5l5.5 -5.5M320.82 388.75h5.5M323.57 386v5.5M320.82 386l5.5 5.5M320.82 391.5l5.5 -5.5M322.27 388.75h5.5M325.02 386v5.5M322.27 386l5.5 5.5M322.27 391.5l5.5 -5.5M323.73 388.75h5.5M326.48 386v5.5M323.73 386l5.5 5.5M323.73 391.5l5.5 -5.5M325.18 388.75h5.5M327.93 386v5.5M325.18 386l5.5 5.5M325.18 391.5l5.5 -5.5M326.64 388.75h5.5M329.39 386v5.5M326.64 386l5.5 5.5M326.64 391.5l5.5 -5.5M328.09 388.75h5.5M330.84 386v5.5M328.09 386l5.5 5.5M328.09 391.5l5.5 -5.5M329.55 388.75h5.5M332.3 386v5.5M329.55 386l5.5 5.5M329.55 391.5l5.5 -5.5M331 388.75h5.5M333.75 386v5.5M331 386l5.5 5.5M331 391.5l5.5 -5.5M332.45 388.75h5.5M335.2 386v5.5M332.45 386l5.5 5.5M332.45 391.5l5.5 -5.5M333.91 388.75h5.5M336.66 386v5.5M333.91 386l5.5 5.5M333.91 391.5l5.5 -5.5M335.36 388.75h5.5M338.11 386v5.5M335.36 386l5.5 5.5M335.36 391.5l5.5 -5.5M336.82 388.75h5.5M339.57 386v5.5M336.82 386l5.5 5.5M336.82 391.5l5.5 -5.5M338.27 388.75h5.5M341.02 386v5.5M338.27 386l5.5 5.5M338.27 391.5l5.5 -5.5M339.73 388.75h5.5M342.48 386v5.5M339.73 386l5.5 5.5M339.73 391.5l5.5 -5.5M341.18 388.75h5.5M343.93 386v5.5M341.18 386l5.5 5.5M341.18 391.5l5.5 -5.5M342.63 388.75h5.5M345.38 386v5.5M342.63 386l5.5 5.5M342.63 391.5l5.5 -5.5M344.09 388.75h5.5M346.84 386v5.5M344.09 386l5.5 5.5M344.09 391.5l5.5 -5.5M345.54 388.75h5.5M348.29 386v5.5M345.54 386l5.5 5.5M345.54 391.5l5.5 -5.5M347 388.75h5.5M349.75 386v5.5M347 386l5.5 5.5M347 391.5l5.5 -5.5M348.45 388.75h5.5M351.2 386v5.5M348.45 386l5.5 5.5M348.45 391.5l5.5 -5.5M349.91 388.75h5.5M352.66 386v5.5M349.91 386l5.5 5.5M349.91 391.5l5.5 -5.5M533.75 54.3h5.5M536.5 51.55v5.5M533.75 51.55l5.5 5.5M533.75 57.05l5.5 -5.5" fill="none" stroke="#0000ff" stroke-width="1.15"/>
<path d="M60.5 267.48h5.5v5.5h-5.5zM61.95 331.77h5.5v5.5h-5.5zM63.41 358.45h5.5v5.5h-5.5zM64.86 368.25h5.5v5.5h-5.5zM66.32 370.86h5.5v5.5h-5.5zM67.77 372.97h5.5v5.5h-5.5zM69.23 374.58h5.5v5.5h-5.5zM70.68 376.07h5.5v5.5h-5.5zM72.13 377.56h5.5v5.5h-5.5zM73.59 379.05h5.5v5.5h-5.5zM75.04 380.17h5.5v5.5h-5.5zM76.5 380.66h5.5v5.5h-5.5zM77.95 380.91h5.5v5.5h-5.5zM79.41 380.91h5.5v5.5h-5.5zM80.86 380.66h5.5v5.5h-5.5zM82.31 380.04h5.5v5.5h-5.5zM83.77 379.26h5.5v5.5h-5.5zM85.22 378.59h5.5v5.5h-5.5zM86.68 377.88h5.5v5.5h-5.5zM88.13 377.12h5.5v5.5h-5.5zM89.59 376.31h5.5v5.5h-5.5zM91.04 375.45h5.5v5.5h-5.5zM92.49 374.54h5.5v5.5h-5.5zM93.95 373.58h5.5v5.5h-5.5zM95.4 372.57h5.5v5.5h-5.5zM96.86 371.51h5.5v5.5h-5.5zM98.31 370.39h5.5v5.5h-5.5zM99.77 369.22h5.5v5.5h-5.5zM101.22 367.99h5.5v5.5h-5.5zM102.67 366.7h5.5v5.5h-5.5zM104.13 365.36h5.5v5.5h-5.5zM105.58 363.96h5.5v5.5h-5.5zM107.04 362.49h5.5v5.5h-5.5zM108.49 360.97h5.5v5.5h-5.5zM109.95 359.38h5.5v5.5h-5.5zM111.4 357.73h5.5v5.5h-5.5zM112.85 356h5.5v5.5h-5.5zM114.31 354.21h5.5v5.5h-5.5zM115.76 352.34h5.5v5.5h-5.5zM117.22 350.4h5.5v5.5h-5.5zM118.67 348.37h5.5v5.5h-5.5zM120.13 346.26h5.5v5.5h-5.5zM121.58 344.06h5.5v5.5h-5.5zM123.03 341.77h5.5v5.5h-5.5zM124.49 339.37h5.5v5.5h-5.5zM125.94 336.87h5.5v5.5h-5.5zM127.4 334.24h5.5v5.5h-5.5zM128.85 331.5h5.5v5.5h-5.5zM130.31 328.61h5.5v5.5h-5.5zM131.76 325.59h5.5v5.5h-5.5zM133.22 322.4h5.5v5.5h-5.5zM134.67 319.05h5.5v5.5h-5.5zM136.12 315.5h5.5v5.5h-5.5zM137.58 311.76h5.5v5.5h-5.5zM139.03 307.79h5.5v5.5h-5.5zM140.49 303.57h5.5v5.5h-5.5zM141.94 299.04h5.5v5.5h-5.5zM143.4 294.17h5.5v5.5h-5.5zM144.85 288.9h5.5v5.5h-5.5zM146.3 283.16h5.5v5.5h-5.5zM147.76 276.88h5.5v5.5h-5.5zM149.21 269.97h5.5v5.5h-5.5zM150.67 262.33h5.5v5.5h-5.5zM152.12 253.84h5.5v5.5h-5.5zM153.58 244.35h5.5v5.5h-5.5zM155.03 233.71h5.5v5.5h-5.5zM156.48 221.7h5.5v5.5h-5.5zM157.94 208.08h5.5v5.5h-5.5zM159.39 192.58h5.5v5.5h-5.5zM160.85 179.62h5.5v5.5h-5.5zM162.3 181.86h5.5v5.5h-5.5zM163.76 230.01h5.5v5.5h-5.5zM165.21 317.25h5.5v5.5h-5.5zM166.66 365.15h5.5v5.5h-5.5zM168.12 379.05h5.5v5.5h-5.5zM169.57 383.52h5.5v5.5h-5.5zM171.03 384.64h5.5v5.5h-5.5zM172.48 385.25h5.5v5.5h-5.5zM173.94 385.59h5.5v5.5h-5.5zM175.39 385.77h5.5v5.5h-5.5zM176.84 385.88h5.5v5.5h-5.5zM178.3 385.93h5.5v5.5h-5.5zM179.75 385.96h5.5v5.5h-5.5zM181.21 385.98h5.5v5.5h-5.5zM182.66 385.99h5.5v5.5h-5.5zM184.12 385.99h5.5v5.5h-5.5zM185.57 386h5.5v5.5h-5.5zM187.02 386h5.5v5.5h-5.5zM188.48 386h5.5v5.5h-5.5zM189.93 386h5.5v5.5h-5.5zM191.39 386h5.5v5.5h-5.5zM192.84 386h5.5v5.5h-5.5zM194.3 386h5.5v5.5h-5.5zM195.75 386h5.5v5.5h-5.5zM197.2 386h5.5v5.5h-5.5zM198.66 386h5.5v5.5h-5.5zM200.11 386h5.5v5.5h-5.5zM201.57 386h5.5v5.5h-5.5zM203.02 386h5.5v5.5h-5.5zM204.48 386h5.5v5.5h-5.5zM533.75 64.65h5.5v5.5h-5.5z" fill="none" stroke="#ff00ff" stroke-width="1.15"/>
<path d="M63.25 270.23h0.01M64.7 334.52h0.01M66.16 361.2h0.01M67.61 371h0.01M69.07 373.61h0.01M70.52 375.72h0.01M71.98 377.33h0.01M73.43 378.82h0.01M74.88 380.31h0.01M76.34 381.8h0.01M77.79 382.92h0.01M79.25 383.41h0.01M80.7 383.66h0.01M82.16 383.66h0.01M83.61 383.41h0.01M85.06 382.79h0.01M86.52 382.01h0.01M87.97 381.34h0.01M89.43 380.63h0.01M90.88 379.87h0.01M92.34 379.06h0.01M93.79 378.2h0.01M95.24 377.29h0.01M96.7 376.33h0.01M98.15 375.32h0.01M99.61 374.26h0.01M101.06 373.14h0.01M102.52 371.97h0.01M103.97 370.74h0.01M105.42 369.45h0.01M106.88 368.11h0.01M108.33 366.71h0.01M109.79 365.24h0.01M111.24 363.72h0.01M112.7 362.13h0.01M114.15 360.48h0.01M115.6 358.75h0.01M117.06 356.96h0.01M118.51 355.09h0.01M119.97 353.15h0.01M121.42 351.12h0.01M122.88 349.01h0.01M124.33 346.81h0.01M125.78 344.52h0.01M127.24 342.12h0.01M128.69 339.62h0.01M130.15 336.99h0.01M131.6 334.25h0.01M133.06 331.36h0.01M134.51 328.34h0.01M135.97 325.15h0.01M137.42 321.8h0.01M138.87 318.25h0.01M140.33 314.51h0.01M141.78 310.54h0.01M143.24 306.32h0.01M144.69 301.79h0.01M146.15 296.92h0.01M147.6 291.65h0.01M149.05 285.91h0.01M150.51 279.63h0.01M151.96 272.72h0.01M153.42 265.08h0.01M154.87 256.59h0.01M156.33 247.1h0.01M157.78 236.46h0.01M159.23 224.45h0.01M160.69 210.83h0.01M162.14 195.33h0.01M163.6 182.37h0.01M165.05 184.61h0.01M166.51 232.76h0.01M167.96 320h0.01M169.41 367.9h0.01M170.87 381.8h0.01M172.32 386.27h0.01M173.78 387.39h0.01M175.23 388h0.01M176.69 388.34h0.01M178.14 388.52h0.01M179.59 388.63h0.01M181.05 388.68h0.01M182.5 388.71h0.01M183.96 388.73h0.01M185.41 388.74h0.01M186.87 388.74h0.01M188.32 388.75h0.01M189.77 388.75h0.01M191.23 388.75h0.01M192.68 388.75h0.01M194.14 388.75h0.01M195.59 388.75h0.01M197.05 388.75h0.01M198.5 388.75h0.01M199.95 388.75h0.01M201.41 388.75h0.01M202.86 388.75h0.01M204.32 388.75h0.01M205.77 388.75h0.01M207.23 388.75h0.01M536.5 67.4h0.01" fill="none" stroke="#ff00ff" stroke-width="1" stroke-linecap="round" opacity="0.8"/>
<rect x="62.05" y="16.2" width="508.8" height="372.6" fill="none" stroke="#000" stroke-width="2"/>
<g font-family="'Liberation Sans', sans-serif" font-size="13.1" fill="#000" stroke="#000" stroke-width="0.2">
<text transform="translate(53.8 393.3) scale(1 1.05)" text-anchor="end">0</text>
<text transform="translate(53.8 331.2) scale(1 1.05)" text-anchor="end">0.05</text>
<text transform="translate(53.8 269.1) scale(1 1.05)" text-anchor="end">0.1</text>
<text transform="translate(53.8 207) scale(1 1.05)" text-anchor="end">0.15</text>
<text transform="translate(53.8 144.9) scale(1 1.05)" text-anchor="end">0.2</text>
<text transform="translate(53.8 82.8) scale(1 1.05)" text-anchor="end">0.25</text>
<text transform="translate(53.8 20.7) scale(1 1.05)" text-anchor="end">0.3</text>
<text transform="translate(64.05 407) scale(1 1.05)" text-anchor="middle">0</text>
<text transform="translate(136.74 407) scale(1 1.05)" text-anchor="middle">50</text>
<text transform="translate(209.42 407) scale(1 1.05)" text-anchor="middle">100</text>
<text transform="translate(282.11 407) scale(1 1.05)" text-anchor="middle">150</text>
<text transform="translate(354.79 407) scale(1 1.05)" text-anchor="middle">200</text>
<text transform="translate(427.48 407) scale(1 1.05)" text-anchor="middle">250</text>
<text transform="translate(500.16 407) scale(1 1.05)" text-anchor="middle">300</text>
<text transform="translate(572.85 407) scale(1 1.05)" text-anchor="middle">350</text>
<text transform="translate(510 31.9) scale(1 1.05)" text-anchor="end">16^4</text>
<text transform="translate(510 45.2) scale(1 1.05)" text-anchor="end">14^4</text>
<text transform="translate(510 58.7) scale(1 1.05)" text-anchor="end">12^4</text>
<text transform="translate(510 71.8) scale(1 1.05)" text-anchor="end">10^4</text>
</g>
</svg>
</body></html>
